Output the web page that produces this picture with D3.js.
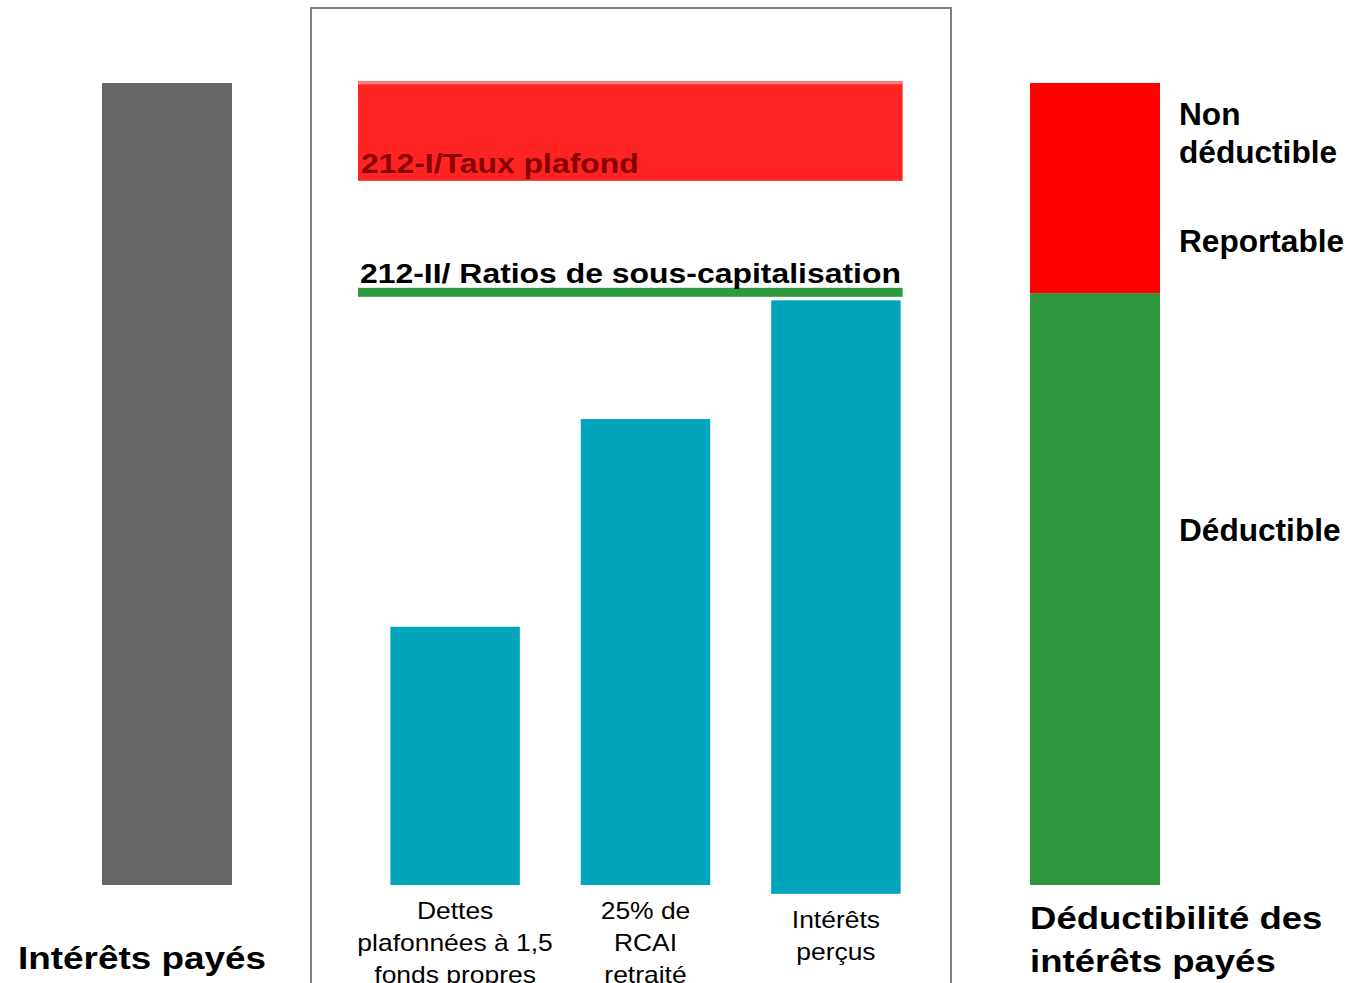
<!DOCTYPE html>
<html>
<head>
<meta charset="utf-8">
<script src="https://cdn.jsdelivr.net/npm/d3@7.9.0/dist/d3.min.js"></script>
<style>
  body { margin: 0; background: #fff; }
  svg { display: block; font-family: "Liberation Sans", Arial, sans-serif; }
</style>
</head>
<body>
<svg id="chart" width="1350" height="983"></svg>
<script>
// panels, left to right
const panels = ['paid', 'limits', 'deductibility'];

// interets payes (total = 100)
const paidValue = 100;

// the three limits inside the box
const limitCategories = [
    ['Dettes', 'plafonnées à 1,5', 'fonds propres'],
    ['25% de', 'RCAI', 'retraité'],
    ['Intérêts', 'perçus']
];
const limitValues = [32.2, 58.1, 72.9];
const limitBases = [0, 0, -1.1];

// 212-I band and 212-II line
const tauxPlafond = [87.8, 100.2];
const sousCapLevel = 73.9;

// deductibility split
const deductible = 73.8;
const nonDeductible = 26.2;

const svg = d3.select('#chart');

let y = d3.scaleLinear()
    .domain([0, 100])
    .range([885, 83]);

let xPanel = d3.scalePoint()
    .domain(panels)
    .range([167, 1095]);

let xInner = d3.scaleBand()
    .domain(d3.range(limitValues.length))
    .range([358, 933])
    .paddingInner(0.32)
    .paddingOuter(0.17);

const barW = 130;

// text helper (the original text is a little stretched sideways)
function addText(str, x, yy, size, sx, opts = {}) {
    return svg.append('text')
        .attr('transform', `translate(${x},${yy}) scale(${sx},1)`)
        .attr('text-anchor', opts.anchor || 'start')
        .attr('font-size', size)
        .attr('font-weight', opts.weight || 'normal')
        .attr('fill', opts.fill || '#000')
        .text(str);
}

// ---- left: interets payes
svg.append('rect')
    .attr('x', xPanel('paid') - barW / 2)
    .attr('y', y(paidValue))
    .attr('width', barW)
    .attr('height', y(0) - y(paidValue))
    .attr('fill', '#666666');

addText('Intérêts payés', 18, 969, 31, 1.19, { weight: 'bold' });

// ---- middle box
svg.append('rect')
    .attr('x', xPanel('limits') - 320)
    .attr('y', 8)
    .attr('width', 640)
    .attr('height', 1000)
    .attr('fill', 'none')
    .attr('stroke', '#7f7f7f')
    .attr('stroke-width', 2);

const innerLeft = xInner.range()[0];
const innerRight = xInner(limitValues.length - 1) + xInner.bandwidth() + 2;

// 212-I band
svg.append('rect')
    .attr('x', innerLeft)
    .attr('y', y(tauxPlafond[1]))
    .attr('width', innerRight - innerLeft)
    .attr('height', y(tauxPlafond[0]) - y(tauxPlafond[1]))
    .attr('fill', '#ff2424');
svg.append('rect')
    .attr('x', innerLeft)
    .attr('y', y(tauxPlafond[1]))
    .attr('width', innerRight - innerLeft)
    .attr('height', 3)
    .attr('fill', '#ff7b7b');

addText('212-I/Taux plafond', innerLeft + 3, y(tauxPlafond[0]) - 8, 28, 1.14,
    { weight: 'bold', fill: '#870000' });

// 212-II line
svg.append('rect')
    .attr('x', innerLeft)
    .attr('y', y(sousCapLevel) - 4.5)
    .attr('width', innerRight - innerLeft)
    .attr('height', 9)
    .attr('fill', '#2e9a3e');

addText('212-II/ Ratios de sous-capitalisation', innerLeft + 2, y(sousCapLevel) - 9, 28, 1.14,
    { weight: 'bold' });

// limit bars
limitValues.forEach((v, i) => {
    svg.append('rect')
        .attr('x', xInner(i))
        .attr('y', y(v))
        .attr('width', xInner.bandwidth())
        .attr('height', y(limitBases[i]) - y(v))
        .attr('fill', '#00a4bb');

    const cx = xInner(i) + xInner.bandwidth() / 2;
    limitCategories[i].forEach((line, j) => {
        addText(line, cx, y(limitBases[i]) + 34 + j * 32, 23, 1.15, { anchor: 'middle' });
    });
});

// ---- right: deductibility
const rx = xPanel('deductibility') - barW / 2;
svg.append('rect')
    .attr('x', rx)
    .attr('y', y(deductible))
    .attr('width', barW)
    .attr('height', y(0) - y(deductible))
    .attr('fill', '#2e973e');
svg.append('rect')
    .attr('x', rx)
    .attr('y', y(deductible + nonDeductible))
    .attr('width', barW)
    .attr('height', y(deductible) - y(deductible + nonDeductible))
    .attr('fill', '#ff0000');

const labelX = rx + barW + 19;
const redTop = y(deductible + nonDeductible);
addText('Non', labelX, redTop + 42, 31, 1.02, { weight: 'bold' });
addText('déductible', labelX, redTop + 80, 31, 1.02, { weight: 'bold' });
addText('Reportable', labelX, y(deductible) - 41, 31, 1.02, { weight: 'bold' });
addText('Déductible', labelX, y(deductible) + 248, 31, 1.02, { weight: 'bold' });

addText('Déductibilité des', rx, 929, 31.5, 1.16, { weight: 'bold' });
addText('intérêts payés', rx, 972, 31.5, 1.16, { weight: 'bold' });
</script>
</body>
</html>
